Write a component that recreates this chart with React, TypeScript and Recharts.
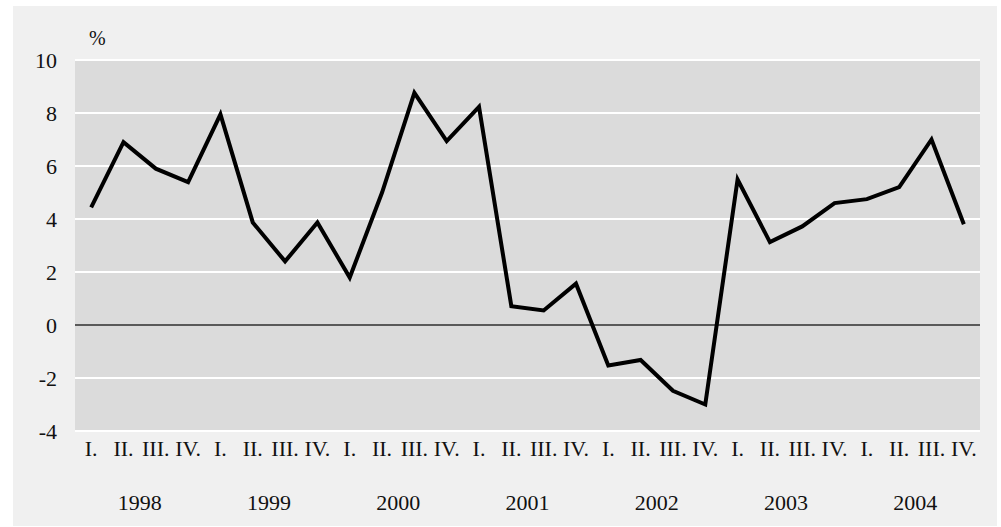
import { LineChart, Line, XAxis, YAxis, CartesianGrid, ReferenceLine } from "recharts";

const quarters = [
  "I.", "II.", "III.", "IV.", "I.", "II.", "III.", "IV.",
  "I.", "II.", "III.", "IV.", "I.", "II.", "III.", "IV.",
  "I.", "II.", "III.", "IV.", "I.", "II.", "III.", "IV.",
  "I.", "II.", "III.", "IV.",
];
const years = [
  "1998", "1998", "1998", "1998", "1999", "1999", "1999", "1999",
  "2000", "2000", "2000", "2000", "2001", "2001", "2001", "2001",
  "2002", "2002", "2002", "2002", "2003", "2003", "2003", "2003",
  "2004", "2004", "2004", "2004",
];
const yearLabels = ["1998", "1999", "2000", "2001", "2002", "2003", "2004"];
const growth = [
  4.44, 6.9, 5.9, 5.39, 7.95, 3.87, 2.4, 3.87,
  1.79, 5.0, 8.76, 6.94, 8.23, 0.71, 0.55, 1.56,
  -1.53, -1.32, -2.48, -3.0, 5.49, 3.13, 3.72, 4.6,
  4.75, 5.2, 7.0, 3.8,
];
const yTicks = [-4, -2, 0, 2, 4, 6, 8, 10];

const data = growth.map((v, i) => ({ idx: i, q: quarters[i], year: years[i], v }));

const FONT = "Liberation Serif, Times New Roman, serif";

function QuarterTick(props: any) {
  const { x, y, payload } = props;
  return (
    <text x={x} y={y + 23} textAnchor="middle" fontFamily={FONT} fontSize={22} fill="#111">
      {quarters[payload.value] ?? payload.value}
    </text>
  );
}

function YearTick(props: any) {
  const { x, y, payload } = props;
  return (
    <text x={x} y={y + 25} textAnchor="middle" fontFamily={FONT} fontSize={22} fill="#111">
      {payload.value}
    </text>
  );
}

export default function App() {
  return (
    <div
      style={{
        position: "absolute",
        left: 13,
        top: 6,
        width: 984,
        height: 520,
        background: "#f0f0f0",
      }}
    >
      <span
        style={{
          position: "absolute",
          left: 76,
          top: 21,
          fontFamily: FONT,
          fontSize: 20,
          color: "#111",
        }}
      >
        %
      </span>
      <LineChart
        width={984}
        height={520}
        data={data}
        margin={{ top: 54, right: 17, bottom: 3, left: 12 }}
      >
        <CartesianGrid
          vertical={false}
          fill="#dbdbdb"
          stroke="#ffffff"
          strokeWidth={2}
          strokeOpacity={1}
        />
        <XAxis
          dataKey="idx"
          xAxisId="q"
          type="category"
          scale="band"
          height={52}
          axisLine={false}
          tickLine={false}
          tickSize={0}
          interval={0}
          tick={<QuarterTick />}
        />
        <XAxis
          dataKey="year"
          xAxisId="y"
          type="category"
          scale="band"
          allowDuplicatedCategory={false}
          ticks={yearLabels}
          height={40}
          axisLine={false}
          tickLine={false}
          tickSize={0}
          interval={0}
          tick={<YearTick />}
        />
        <YAxis
          domain={[-4, 10]}
          ticks={yTicks}
          width={50}
          axisLine={false}
          tickLine={false}
          tickSize={0}
          tickMargin={18}
          tick={{ fontFamily: FONT, fontSize: 22, fill: "#111" }}
        />
        <ReferenceLine y={0} xAxisId="q" stroke="#222222" strokeWidth={1.5} />
        <Line
          xAxisId="q"
          dataKey="v"
          type="linear"
          stroke="#000000"
          strokeWidth={4}
          dot={false}
          isAnimationActive={false}
        />
      </LineChart>
    </div>
  );
}
